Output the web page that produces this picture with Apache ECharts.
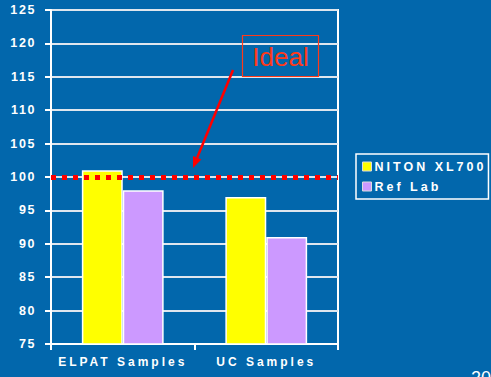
<!DOCTYPE html>
<html>
<head>
<meta charset="utf-8">
<script src="https://cdn.jsdelivr.net/npm/echarts@6/dist/echarts.min.js"></script>
<style>
  html, body { margin: 0; padding: 0; background: #0267AC; }
  #chart { width: 491px; height: 377px; }
  /* spaced-out caps look for axis and legend labels */
  #chart svg text { letter-spacing: 1.6px; }
  #chart svg text.wide { letter-spacing: 3px; }
  #chart svg text.plain { letter-spacing: 0; }
</style>
</head>
<body>
<div id="chart"></div>
<script>
// Lead recovery comparison: field XRF vs reference laboratory
const categories = ['ELPAT Samples', 'UC Samples'];
const nitonValues = [101, 97];
const refLabValues = [98, 91];
const seriesNames = ['NITON XL700', 'Ref Lab'];
const idealValue = 100;
const idealLabel = 'Ideal';
const pageNumber = '20';

const chart = echarts.init(document.getElementById('chart'), null, { renderer: 'svg' });

const labelFont = { color: '#ffffff', fontWeight: 'bold', fontSize: 12, fontFamily: 'Liberation Sans, Arial, sans-serif' };

const option = {
  backgroundColor: '#0267AC',
  animation: false,
  grid: {
    left: 51, right: 153, top: 10, bottom: 33,
    show: true, borderColor: '#ffffff', borderWidth: 2
  },
  legend: {
    orient: 'vertical',
    left: 356, top: 154,
    padding: [6, 35, 6, 6],
    borderColor: '#ffffff', borderWidth: 1.5,
    itemWidth: 9, itemHeight: 9, itemGap: 7,
    icon: 'rect',
    itemStyle: { borderColor: '#dddddd', borderWidth: 1 },
    textStyle: Object.assign({}, labelFont, { fontSize: 12.5, padding: [0, 0, 0, -2] }),
    data: seriesNames
  },
  xAxis: {
    type: 'category',
    data: categories,
    axisLine: { lineStyle: { color: '#ffffff', width: 2 } },
    axisTick: { show: true, length: 6, lineStyle: { color: '#ffffff', width: 2 } },
    axisLabel: Object.assign({}, labelFont, { margin: 12 })
  },
  yAxis: {
    type: 'value',
    min: 75, max: 125, interval: 5,
    axisLine: { show: true, lineStyle: { color: '#ffffff', width: 2 } },
    axisTick: { show: true, length: 6, lineStyle: { color: '#ffffff', width: 2 } },
    axisLabel: Object.assign({}, labelFont, { fontSize: 12.5, margin: 15 }),
    splitLine: { lineStyle: { color: '#dfe6ee', width: 2 } }
  },
  series: [
    {
      name: seriesNames[0],
      type: 'bar',
      data: nitonValues,
      barGap: '0%',
      barCategoryGap: '43%',
      itemStyle: { color: '#FFFF00', borderColor: '#ffffff', borderWidth: 1.5 },
      markLine: {
        silent: true,
        symbol: 'none',
        label: { show: false },
        lineStyle: { color: '#FF0000', width: 5, type: [5, 6], cap: 'butt' },
        emphasis: { disabled: true },
        data: [{ yAxis: idealValue }]
      },
      z: 2
    },
    {
      name: seriesNames[1],
      type: 'bar',
      data: refLabValues,
      itemStyle: { color: '#CC99FF', borderColor: '#ffffff', borderWidth: 1.5 },
      z: 2
    }
  ]
};
chart.setOption(option);

// "Ideal" callout with an arrow pointing at the target line
const tip = chart.convertToPixel({ xAxisIndex: 0, yAxisIndex: 0 }, [0, idealValue]);
const lineY = tip[1];
const tipX = 193, tipY = lineY - 9;
const tailX = 233, tailY = 70;
const ang = Math.atan2(tipY - tailY, tipX - tailX);
const headLen = 11, headHalf = 4.5;
const baseX = tipX - headLen * Math.cos(ang), baseY = tipY - headLen * Math.sin(ang);
const px = -Math.sin(ang) * headHalf, py = Math.cos(ang) * headHalf;

chart.setOption({
  graphic: [
    {
      type: 'rect', silent: true,
      shape: { x: 242.5, y: 35.5, width: 76, height: 41 },
      style: { fill: 'none', stroke: '#FF3A1A', lineWidth: 1.2 }
    },
    {
      type: 'text', silent: true,
      x: 280.5, y: 57,
      style: {
        text: idealLabel, fill: '#FF3A1A',
        font: '26px "Liberation Sans", Arial, sans-serif',
        align: 'center', verticalAlign: 'middle'
      }
    },
    {
      type: 'line', silent: true,
      shape: { x1: tailX, y1: tailY, x2: baseX, y2: baseY },
      style: { stroke: '#FF0000', lineWidth: 2.5 }
    },
    {
      type: 'polygon', silent: true,
      shape: { points: [[tipX, tipY], [baseX + px, baseY + py], [baseX - px, baseY - py]] },
      style: { fill: '#FF0000' }
    },
    {
      type: 'text', silent: true,
      x: 471, y: 369,
      style: {
        text: pageNumber, fill: '#ffffff',
        font: '18px "Liberation Sans", Arial, sans-serif'
      }
    }
  ]
});

// letter spacing per text: callout plain, category and legend labels widest
document.querySelectorAll('#chart svg text').forEach(function (t) {
  const txt = t.textContent;
  if (txt === idealLabel || txt === pageNumber) t.classList.add('plain');
  else if (categories.indexOf(txt) >= 0 || seriesNames.indexOf(txt) >= 0) t.classList.add('wide');
});
</script>
</body>
</html>
